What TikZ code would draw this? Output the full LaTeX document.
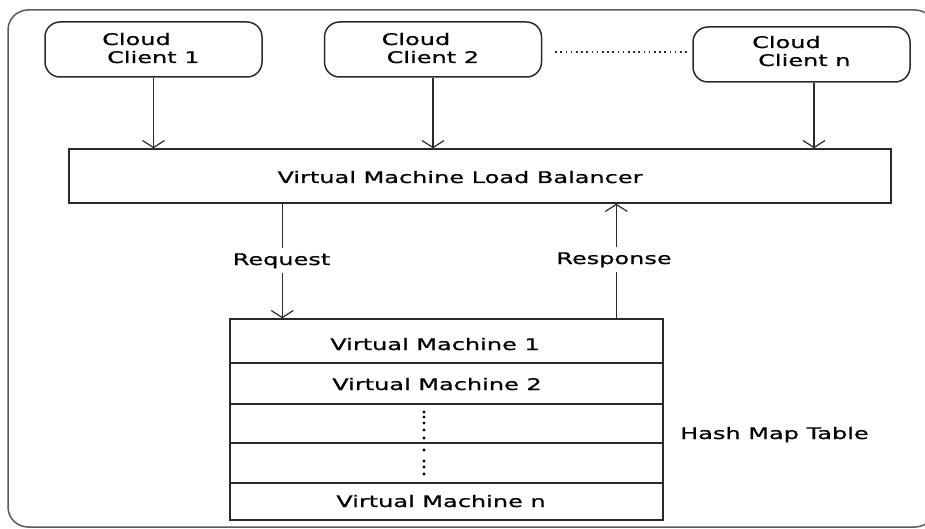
\documentclass[tikz,border=0pt]{standalone}
\usepackage{fontspec}
\newfontfamily\diagfont[FakeStretch=1.5,FakeBold=0.8]{DejaVu Sans}
\usetikzlibrary{arrows.meta,calc}
\definecolor{linec}{HTML}{2A2A2A}
\definecolor{framec}{HTML}{5A5A5A}

\begin{document}
\begin{tikzpicture}[x=1pt,y=-1pt,
  every node/.style={font=\diagfont\fontsize{16}{18}\selectfont, inner sep=0pt, text=black},
  client/.style={draw=linec, line width=1.5pt, rounded corners=15pt,
                 minimum width=217pt, minimum height=55pt},
  boxc/.style={draw=linec, line width=1.5pt, minimum width=#1},
  boxc/.default=433pt,
  arr/.style={draw=linec, line width=1.5pt,
              -{Straight Barb[length=7pt,width=22pt,line width=1.2pt]}},
  dotline/.style={draw=linec, line width=1.6pt, dash pattern=on 1.6pt off 3.6pt},
  tag/.style={fill=white, inner xsep=2pt, inner ysep=5pt}
]
\useasboundingbox (0,0) rectangle (925,529);
\clip (0,0) rectangle (925,529);

% outer frame
\draw[framec, line width=1.5pt, rounded corners=20pt] (8,10) rectangle (935,527);

% cloud clients
\node[client] (c1) at (153.5,49.5) {};
\node[client] (c2) at (433,49.5) {};
\node[client] (cn) at (801.5,54.5) {};
\node[anchor=base west] (c1a) at (102,45) {Cloud};
\node[anchor=base west] (c1b) at (107,63) {Client 1};
\node[anchor=base west] (c2a) at (381.5,45) {Cloud};
\node[anchor=base west] (c2b) at (386.5,63) {Client 2};
\node[anchor=base west] (cna) at (752,48) {Cloud};
\node[anchor=base west] (cnb) at (758,66) {Client n};

% dotted link between the clients
\coordinate (dl) at ($(c2.east)+(13,2.5)$);
\draw[dotline, shorten >=5pt] (dl) -- (dl -| cn.west);

% load balancer
\node[boxc=822pt, minimum height=54pt] (lb) at (480,176) {};
\node[anchor=base] (lbt) at (460,183) {Virtual Machine Load Balancer};

% client to balancer arrows
\draw[arr] (c1.south) -- (c1.south |- lb.north);
\draw[arr] (c2.south) -- (c2.south |- lb.north);
\coordinate (cnx) at ($(cn.south)+(12.5,0)$);
\draw[arr] (cnx) -- (cnx |- lb.north);

% hash map table of virtual machines
\node[boxc, minimum height=44pt] (r1) at (446.5,341) {};
\node[boxc, minimum height=41pt] (r2) at (446.5,383.5) {};
\node[boxc, minimum height=39pt] (r3) at (446.5,423.5) {};
\node[boxc, minimum height=40pt] (r4) at (446.5,463) {};
\node[boxc, minimum height=37pt] (r5) at (446.5,501.5) {};
\node[anchor=base] (v1) at (435,350) {Virtual Machine 1};
\node[anchor=base] (v2) at (437,390) {Virtual Machine 2};
\node[anchor=base] (vn) at (441,507) {Virtual Machine n};
\foreach \yy in {412,417,423,430,438,450,461,467,474}
  \fill[black] (424,\yy) circle (1.7pt);
\node[anchor=base west] (hm) at (680,439) {Hash Map Table};

% request and response
\coordinate (rq) at ($(r1.north west)+(53,0)$);
\coordinate (rs) at ($(r1.north west)+(387,0)$);
\draw[arr] (rq |- lb.south) -- (rq);
\draw[arr] (rs) -- (rs |- lb.south);
\node[tag, anchor=base] (req) at (281.5,265) {Request};
\node[tag, anchor=base] (res) at (614,264) {Response};
\end{tikzpicture}
\end{document}
